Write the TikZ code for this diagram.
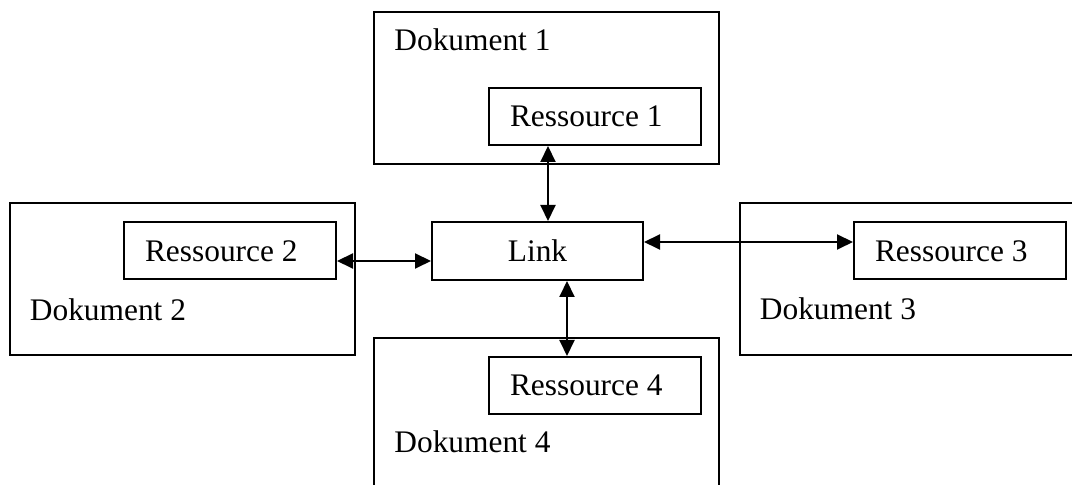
\documentclass[tikz,border=0pt]{standalone}
\usepackage{fontspec}
\setmainfont{Liberation Serif}
\usepackage{tikz}
\usetikzlibrary{positioning,arrows.meta}
\newcommand{\restext}[1]{\makebox[85pt][l]{#1}}

\begin{document}
\begin{tikzpicture}[
                  x=0.5pt,y=-0.5pt,
                  font=\fontsize{15.7pt}{18pt}\selectfont,
                  dok/.style={draw,line width=1pt,minimum width=172.5pt,minimum height=76pt,inner sep=0pt},
                  res/.style={draw,line width=1pt,inner xsep=10.5pt,inner ysep=0pt,minimum height=28.5pt},
                  lnk/.style={draw,line width=1pt,minimum width=105.5pt,minimum height=29pt,inner sep=0pt},
                  lbl/.style={anchor=base west,inner sep=0pt},
                  arr/.style={{Triangle[length=8pt,width=7.5pt]}-{Triangle[length=8pt,width=7.5pt]},line width=1pt}
                ]
                \clip (0,0) rectangle (1072,485);
                \useasboundingbox (0,0) rectangle (1072,485);

                % documents
                \node[dok] (dok1) at (546.5,88) {};
                \node[dok] (dok2) at (182,279.5) {};
                \node[dok] (dok3) at (912,279.5) {};
                \node[dok] (dok4) at (546.5,414) {};
                \node[lbl] (dok1lbl) at ([shift={(21,40)}]dok1.north west) {Dokument 1};
                \node[lbl] (dok2lbl) at ([shift={(21,118)}]dok2.north west) {Dokument 2};
                \node[lbl] (dok3lbl) at ([shift={(21,117)}]dok3.north west) {Dokument 3};
                \node[lbl] (dok4lbl) at ([shift={(21,116)}]dok4.north west) {Dokument 4};

                % resources and link
                \node[res] (res1) at (595,116.5) {\restext{Ressource 1}};
                \node[res] (res2) at (230,251) {\restext{Ressource 2}};
                \node[res] (res3) at (960,251) {\restext{Ressource 3}};
                \node[res] (res4) at (595,385.5) {\restext{Ressource 4}};
                \node[lnk] (link) at (537.5,251) {Link};

                \draw[arr] ([xshift=5.25pt]link.north |- res1.south) -- ([xshift=5.25pt]link.north);
                \draw[arr] ([yshift=-5pt]res2.east) -- ([yshift=-5pt]link.west);
                \draw[arr] ([yshift=4.5pt]link.east) -- ([yshift=4.5pt]res3.west);
                \draw[arr] ([xshift=14.75pt]link.south) -- ([xshift=14.75pt]link.south |- res4.north);
                \end{tikzpicture}
\end{document}
